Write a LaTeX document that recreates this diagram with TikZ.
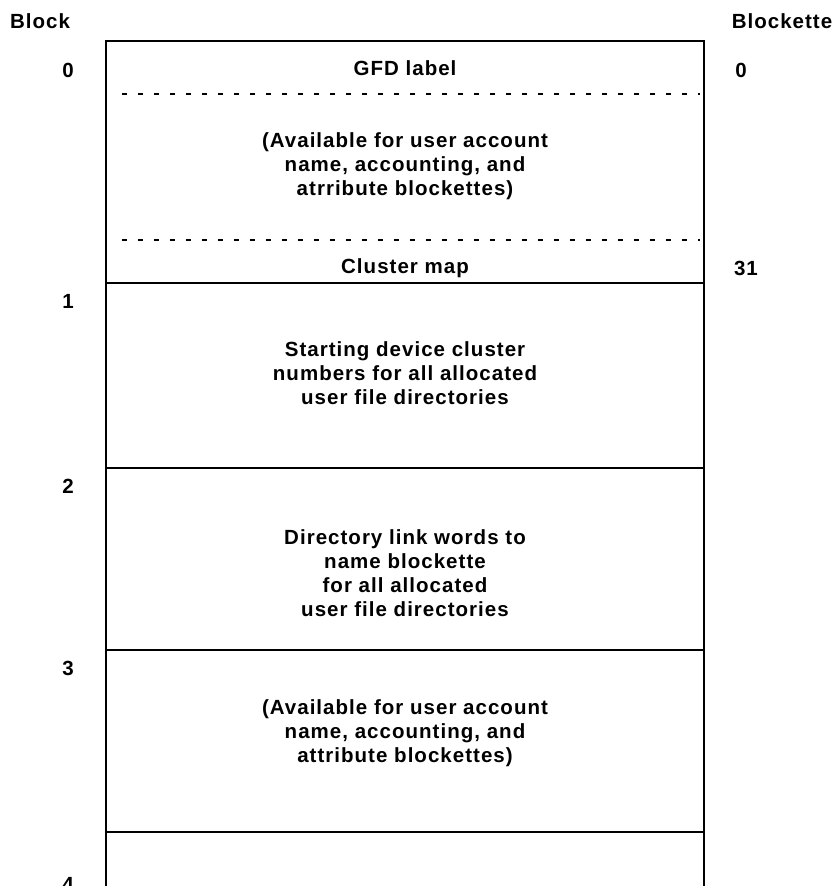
\documentclass[tikz,border=0pt]{standalone}
\usepackage{fontspec}
\setmainfont{Liberation Sans}[LetterSpace=5]
\begin{document}
\begin{tikzpicture}[x=1pt,y=-1pt,
  lbl/.style={font=\bfseries\fontsize{20.5}{24}\selectfont, inner sep=0pt},
  cell/.style={lbl, align=center},
  rule/.style={line width=1.5pt},
  dotrule/.style={line width=1.7pt, dash pattern=on 5pt off 11pt}]
\useasboundingbox (0,0) rectangle (836,886);

% outer walls of the file (open at the bottom)
\draw[rule] (106,886) -- (106,41) -- (704,41) -- (704,886);
% block boundaries
\draw[rule] (106,283) -- (704,283);
\draw[rule] (106,468) -- (704,468);
\draw[rule] (106,650) -- (704,650);
\draw[rule] (106,832) -- (704,832);
% blockette separators inside block 0
\draw[dotrule] (122,94) -- (700,94);
\draw[dotrule] (122,240) -- (700,240);

% column headings
\node[lbl] (hblock) at (40,21) {Block};
\node[lbl] (hblockette) at (782,21) {Blockette};

% block numbers
\node[lbl] (b0) at (68,70) {0};
\node[lbl] (b1) at (68,301) {1};
\node[lbl] (b2) at (68,486) {2};
\node[lbl] (b3) at (68,668) {3};
\node[lbl] (b4) at (68,884) {4};

% blockette numbers
\node[lbl] (k0) at (741,70) {0};
\node[lbl] (k31) at (746,268) {31};

% cell contents
\node[cell] (gfd) at (405,68) {GFD label};
\node[cell] (avail0) at (405,166) {(Available for user account\\name, accounting, and\\atrribute blockettes)};
\node[cell] (cmap) at (405,268) {Cluster map};
\node[cell] (start) at (405,373) {Starting device cluster\\numbers for all allocated\\user file directories};
\node[cell] (link) at (405,573) {Directory link words to\\name blockette\\for all allocated\\user file directories};
\node[cell] (avail3) at (405,733) {(Available for user account\\name, accounting, and\\attribute blockettes)};
\end{tikzpicture}
\end{document}
